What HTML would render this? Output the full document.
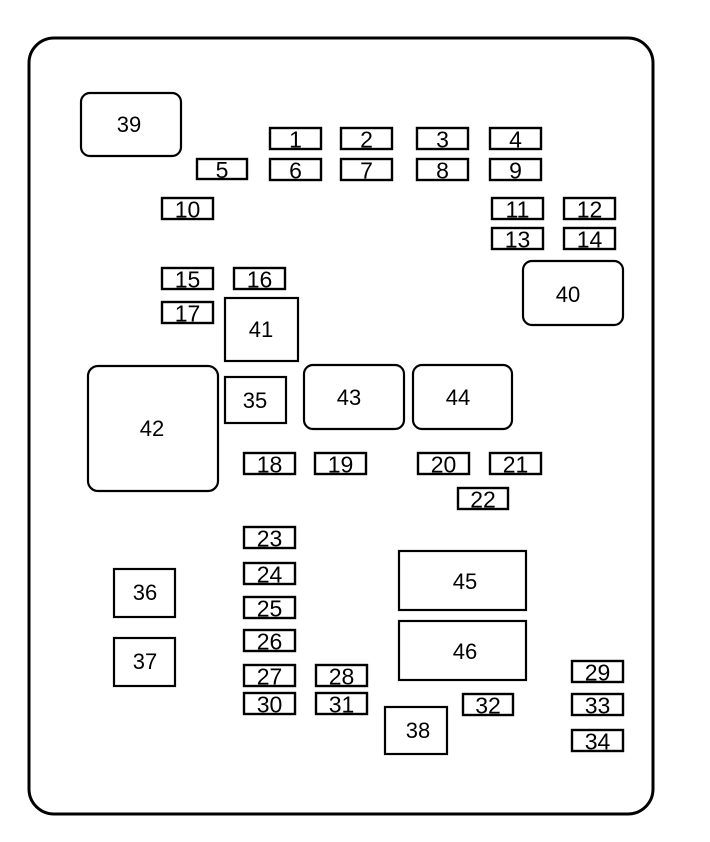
<!DOCTYPE html>
<html><head><meta charset="utf-8"><style>
html,body{margin:0;padding:0;background:#fff;}
svg{display:block;}
text{font-family:"Liberation Sans",Arial,sans-serif;fill:#000;}
.f rect{fill:#fff;stroke:#000;stroke-width:2.4;}
.f text{font-size:23px;text-anchor:middle;}
.r rect{fill:#fff;stroke:#000;stroke-width:2.2;}
.r text{font-size:22px;text-anchor:middle;}
</style></head><body>
<svg width="710" height="842" viewBox="0 0 710 842" xmlns="http://www.w3.org/2000/svg">
<rect x="29" y="38" width="624" height="776" rx="25" ry="25" fill="#fff" stroke="#000" stroke-width="3"/>
<g class="f">
<rect x="270" y="128" width="51" height="21"/><text x="295.5" y="147.5">1</text>
<rect x="341" y="128" width="51" height="21"/><text x="366.5" y="147.5">2</text>
<rect x="417" y="128" width="51" height="21"/><text x="442.5" y="147.5">3</text>
<rect x="490" y="128" width="51" height="21"/><text x="515.5" y="147.5">4</text>
<rect x="197" y="159" width="50" height="20"/><text x="222" y="178">5</text>
<rect x="270" y="159" width="51" height="21"/><text x="295.5" y="178.5">6</text>
<rect x="341" y="159" width="51" height="21"/><text x="366.5" y="178.5">7</text>
<rect x="417" y="159" width="51" height="21"/><text x="442.5" y="178.5">8</text>
<rect x="490" y="159" width="51" height="21"/><text x="515.5" y="178.5">9</text>
<rect x="162" y="198" width="51" height="21"/><text x="187.5" y="217.5">10</text>
<rect x="492" y="198" width="51" height="21"/><text x="517.5" y="217.5">11</text>
<rect x="564" y="198" width="51" height="21"/><text x="589.5" y="217.5">12</text>
<rect x="492" y="228" width="51" height="21"/><text x="517.5" y="247.5">13</text>
<rect x="564" y="228" width="51" height="21"/><text x="589.5" y="247.5">14</text>
<rect x="162" y="268" width="51" height="21"/><text x="187.5" y="287.5">15</text>
<rect x="234" y="268" width="51" height="21"/><text x="259.5" y="287.5">16</text>
<rect x="162" y="302" width="51" height="21"/><text x="187.5" y="321.5">17</text>
<rect x="244" y="453" width="51" height="21"/><text x="269.5" y="472.5">18</text>
<rect x="315" y="453" width="51" height="21"/><text x="340.5" y="472.5">19</text>
<rect x="418" y="453" width="51" height="21"/><text x="443.5" y="472.5">20</text>
<rect x="490" y="453" width="51" height="21"/><text x="515.5" y="472.5">21</text>
<rect x="458" y="488" width="50" height="21"/><text x="483" y="507.5">22</text>
<rect x="244" y="527" width="51" height="21"/><text x="269.5" y="546.5">23</text>
<rect x="244" y="563" width="51" height="21"/><text x="269.5" y="582.5">24</text>
<rect x="244" y="597" width="51" height="21"/><text x="269.5" y="616.5">25</text>
<rect x="244" y="630" width="51" height="21"/><text x="269.5" y="649.5">26</text>
<rect x="244" y="665" width="51" height="21"/><text x="269.5" y="684.5">27</text>
<rect x="316" y="665" width="51" height="21"/><text x="341.5" y="684.5">28</text>
<rect x="572" y="661" width="51" height="21"/><text x="597.5" y="680.5">29</text>
<rect x="244" y="693" width="51" height="21"/><text x="269.5" y="712.5">30</text>
<rect x="316" y="693" width="51" height="21"/><text x="341.5" y="712.5">31</text>
<rect x="463" y="694" width="50" height="21"/><text x="488" y="713.5">32</text>
<rect x="572" y="694" width="51" height="21"/><text x="597.5" y="713.5">33</text>
<rect x="572" y="730" width="51" height="21"/><text x="597.5" y="749.5">34</text>
</g>
<g class="r">
<rect x="81" y="93" width="100" height="63" rx="9" ry="9"/><text x="129" y="132">39</text>
<rect x="523" y="261" width="100" height="64" rx="9" ry="9"/><text x="568" y="302">40</text>
<rect x="225" y="298" width="73" height="63"/><text x="261" y="337">41</text>
<rect x="88" y="366" width="130" height="125" rx="10" ry="10"/><text x="152" y="436">42</text>
<rect x="225" y="377" width="61" height="46"/><text x="255" y="408">35</text>
<rect x="304" y="365" width="100" height="64" rx="9" ry="9"/><text x="349" y="405">43</text>
<rect x="413" y="365" width="99" height="64" rx="9" ry="9"/><text x="458" y="405">44</text>
<rect x="114" y="569" width="61" height="48"/><text x="145" y="600">36</text>
<rect x="114" y="638" width="61" height="48"/><text x="145" y="669">37</text>
<rect x="399" y="551" width="127" height="59"/><text x="465" y="589">45</text>
<rect x="399" y="621" width="127" height="59"/><text x="465" y="659">46</text>
<rect x="385" y="707" width="62" height="47"/><text x="418" y="738">38</text>
</g>
</svg>
</body></html>
